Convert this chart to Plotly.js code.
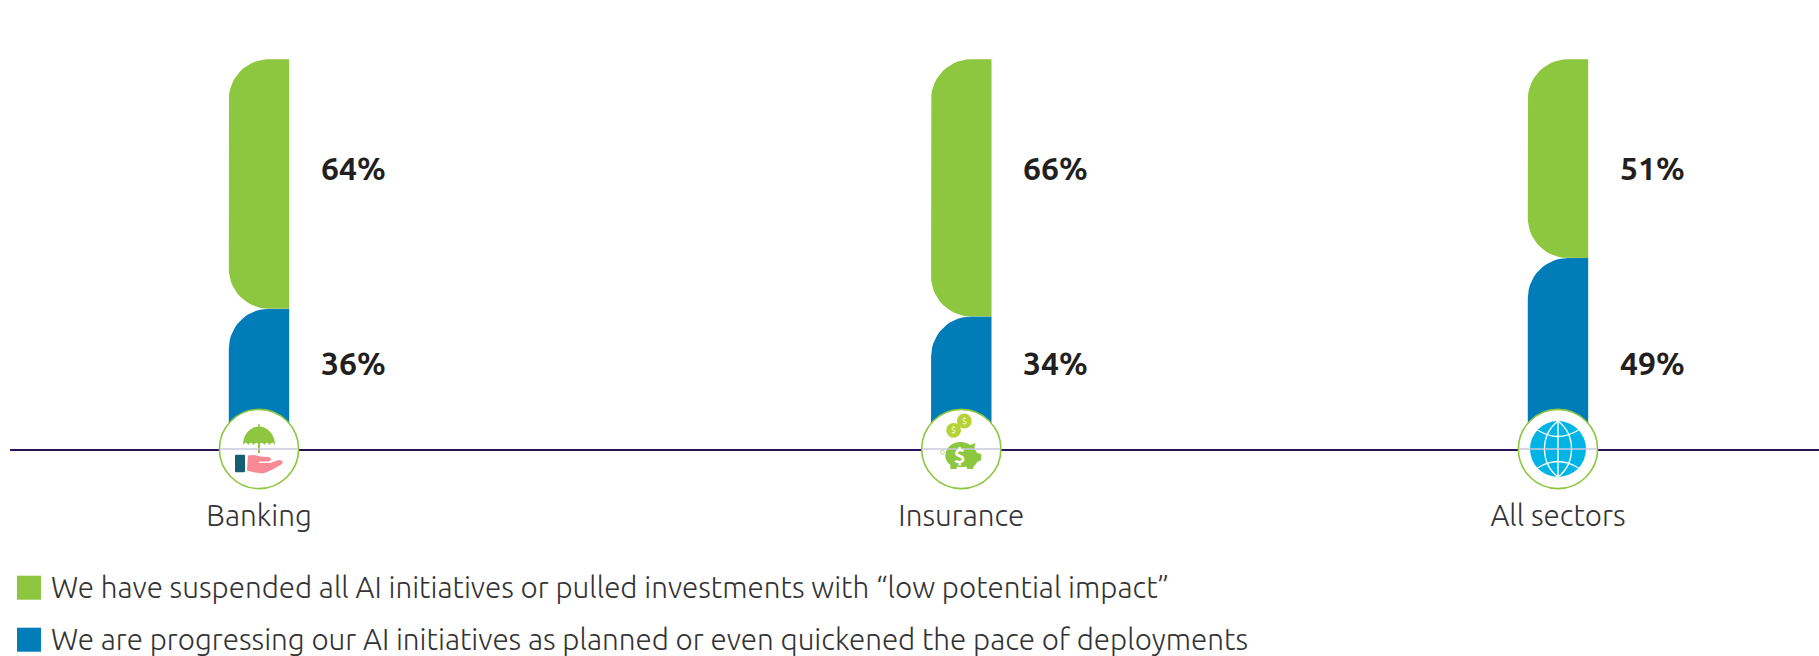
<!DOCTYPE html>
<html><head><meta charset="utf-8">
<script src="https://cdn.plot.ly/plotly-3.0.1.min.js"></script>
<style>html,body{margin:0;padding:0;background:#fff;overflow:hidden}</style></head>
<body><div id="chart" style="width:1819px;height:656px"></div>
<script>
// ---- data ----
const sectors = ['Banking', 'Insurance', 'All sectors'];
const suspended = [64, 66, 51];
const progressing = [36, 34, 49];
const suspendedName = 'We have suspended all AI initiatives or pulled investments with “low potential impact”';
const progressingName = 'We are progressing our AI initiatives as planned or even quickened the pace of deployments';

// ---- layout constants ----
const W = 1819, H = 656, baseY = 449.3, pxPerPct = 3.9;
const centres = [259, 961.3, 1558];
const halfBar = 30.2, radius = 40;
const GREEN = '#8dc63f', BLUE = '#007cb8', TXT = '#333335';
const FONT = 'Ubuntu, "Noto Sans", sans-serif';
const LIGHT = 300;

// left-rounded bar outline, in axis units
function barOutline(cx, base, top, roundBottom) {
  const xs = [], ys = [], ry = radius / pxPerPct, L = cx - halfBar, R = cx + halfBar, n = 14;
  xs.push(R); ys.push(base);
  if (roundBottom) {
    for (let i = 0; i <= n; i++) { const a = i / n * Math.PI / 2;
      xs.push(L + radius - radius * Math.sin(a)); ys.push(base + ry - ry * Math.cos(a)); }
  } else { xs.push(L); ys.push(base); }
  for (let i = 0; i <= n; i++) { const a = i / n * Math.PI / 2;
    xs.push(L + radius - radius * Math.cos(a)); ys.push(top - ry + ry * Math.sin(a)); }
  xs.push(R); ys.push(top); xs.push(R); ys.push(base);
  xs.push(null); ys.push(null);
  return [xs, ys];
}
function series(name, color, baseFn, topFn, roundBottom) {
  let x = [], y = [];
  centres.forEach((c, i) => { const o = barOutline(c, baseFn(i), topFn(i), roundBottom); x = x.concat(o[0]); y = y.concat(o[1]); });
  return {type: 'scatter', mode: 'lines', name, x, y, fill: 'toself', fillcolor: color, line: {width: 0, color}, hoverinfo: 'name'};
}
const traces = [
  series(progressingName, BLUE, i => 0, i => progressing[i], false),
  series(suspendedName, GREEN, i => progressing[i], i => progressing[i] + suspended[i], true)
];

// pixel-anchored shape helpers; icon paths written with y pointing down
function flip(path) {
  let odd = false;
  return path.replace(/-?\d*\.?\d+/g, m => { odd = !odd; return odd ? m : String(-parseFloat(m)); });
}
function pix(cx, extra) { return Object.assign({xref: 'x', yref: 'paper', xanchor: cx, yanchor: 0, xsizemode: 'pixel', ysizemode: 'pixel', layer: 'above'}, extra); }
function fillPath(cx, d, color) { return pix(cx, {type: 'path', path: flip(d), fillcolor: color, line: {width: 0}}); }
function strokePath(cx, d, color, w) { return pix(cx, {type: 'path', path: flip(d), line: {color, width: w}}); }
function disc(cx, x, y, r, fill, lineColor, lw) {
  return pix(cx, {type: 'circle', x0: x - r, x1: x + r, y0: -y - r, y1: -y + r, fillcolor: fill, line: {color: lineColor || fill, width: lw || 0}});
}
const shapes = [];
centres.forEach(c => {
  shapes.push(disc(c, 0, 0, 39.6, '#ffffff', GREEN, 1.6));
});
// Banking icon
const c0 = centres[0];
shapes.push(
  fillPath(c0, 'M -16 -4 C -16 -15 -8 -22.5 0 -22.5 C 8 -22.5 16 -15 16 -4 Q 13.3 -8.5 10.7 -4 Q 8 -8.5 5.3 -4 Q 2.7 -8.5 0 -4 Q -2.7 -8.5 -5.3 -4 Q -8 -8.5 -10.7 -4 Q -13.3 -8.5 -16 -4 Z', GREEN),
  fillPath(c0, 'M -1 -7 L 1 -7 L 1 4 L -1 4 Z', GREEN),
  fillPath(c0, 'M -0.7 -25 L 0.7 -25 L 0.7 -22 L -0.7 -22 Z', GREEN),
  fillPath(c0, 'M -11 6.5 Q -4 5 1 7.5 L 10 8 Q 14 10 10 12.5 L 0 12.5 L 0 14 L 11 14 L 20 11 Q 25 11 23 15 Q 12 22 4 24.5 Q -4 24 -12 21.5 Z', '#f78a94'),
  fillPath(c0, 'M -24 7 Q -24 5.7 -22.7 5.7 L -15 5.7 Q -14 5.7 -14 7 L -14 22 Q -14 23.2 -15 23.2 L -22.7 23.2 Q -24 23.2 -24 22 Z', '#155e70')
);
// Insurance icon
const c1 = centres[1];
shapes.push(
  disc(c1, -7.7, -18.7, 7.4, '#b5d334'),
  disc(c1, 3, -28, 7.4, '#b5d334'),
  disc(c1, -19, 3.4, 2, '#ffffff', '#a9d46d', 0.8),
  fillPath(c1, 'M -16 7 C -16 -1 -9 -7 -1 -7 C 3 -7 6 -6 9 -4 L 14 -6 L 13 0 Q 15 2 16 4 L 20 5 L 20 11 L 16 13 Q 14 16 12 18 L 12 20 L 6 20 L 5 17.5 Q 0 19 -4 17.5 L -5 20 L -11 20 L -11 16 Q -16 12 -16 7 Z', GREEN)
);
// All-sectors icon
const c2 = centres[2];
shapes.push(
  disc(c2, 0, 0, 28, '#00b5e6'),
  strokePath(c2, 'M 0 -28 L 0 28', '#ffffff', 1.4),
  strokePath(c2, 'M 0 -28 C -18 -14 -18 14 0 28 C 18 14 18 -14 0 -28 Z', '#ffffff', 1.4),
  strokePath(c2, 'M -20.5 -19 Q 0 -6 20.5 -19', '#ffffff', 1.4),
  strokePath(c2, 'M -20.5 19 Q 0 6 20.5 19', '#ffffff', 1.4)
);
centres.forEach(c => {
  shapes.push(strokePath(c, 'M -39 0 L 39 0', '#c9c8dc', 1.4));
});
// legend swatches
[[GREEN, 138.7], [BLUE, 190.7]].forEach(s => {
  shapes.push(pix(29, {type: 'rect', x0: -12, x1: 12, y0: -s[1] - 12, y1: -s[1] + 12, fillcolor: s[0], line: {width: 0}}));
});

const annotations = [];
const topLabelY = 72, lowLabelY = 22, labelGap = 32;
centres.forEach((c, i) => {
  [[suspended[i], topLabelY], [progressing[i], lowLabelY]].forEach(p => {
    annotations.push({xref: 'x', yref: 'y', x: c + halfBar + labelGap, y: p[1], text: p[0] + '%', showarrow: false,
      xanchor: 'left', yanchor: 'middle', xshift: -2.5, font: {family: FONT, size: 32, color: '#231f20', weight: 600}});
  });
});
[[suspendedName, 137.7], [progressingName, 190.2]].forEach(l => {
  annotations.push({xref: 'x', yref: 'paper', x: 49, y: 0, yshift: -l[1], text: l[0], showarrow: false, xanchor: 'left', yanchor: 'middle',
    font: {family: FONT, size: 29.6, color: TXT, weight: LIGHT}});
});
function dollar(x, up, size, bold) {
  annotations.push({xref: 'x', yref: 'paper', x, y: 0, yshift: up, text: bold ? '<b>$</b>' : '$', showarrow: false,
    xanchor: 'center', yanchor: 'middle', font: {family: FONT, size, color: '#fff'}});
}
dollar(c1 - 2, -6, 20, true);
dollar(c1 - 7.7, 18.7, 9, false);
dollar(c1 + 3, 28, 9, false);

const layout = {
  width: W, height: H, showlegend: false, paper_bgcolor: '#fff', plot_bgcolor: '#fff',
  margin: {l: 10, r: 0, t: 0, b: H - baseY, pad: 0},
  xaxis: {range: [10, W], tickmode: 'array', tickvals: centres, ticktext: sectors, showgrid: false, zeroline: false,
    showline: true, linecolor: '#2f1155', linewidth: 2, ticks: '', ticklabelstandoff: 39,
    tickfont: {family: FONT, size: 29.6, color: TXT, weight: LIGHT}},
  yaxis: {range: [0, baseY / pxPerPct], visible: false, fixedrange: true},
  shapes, annotations
};
Plotly.newPlot('chart', traces, layout, {displayModeBar: false, staticPlot: true});
</script></body></html>
